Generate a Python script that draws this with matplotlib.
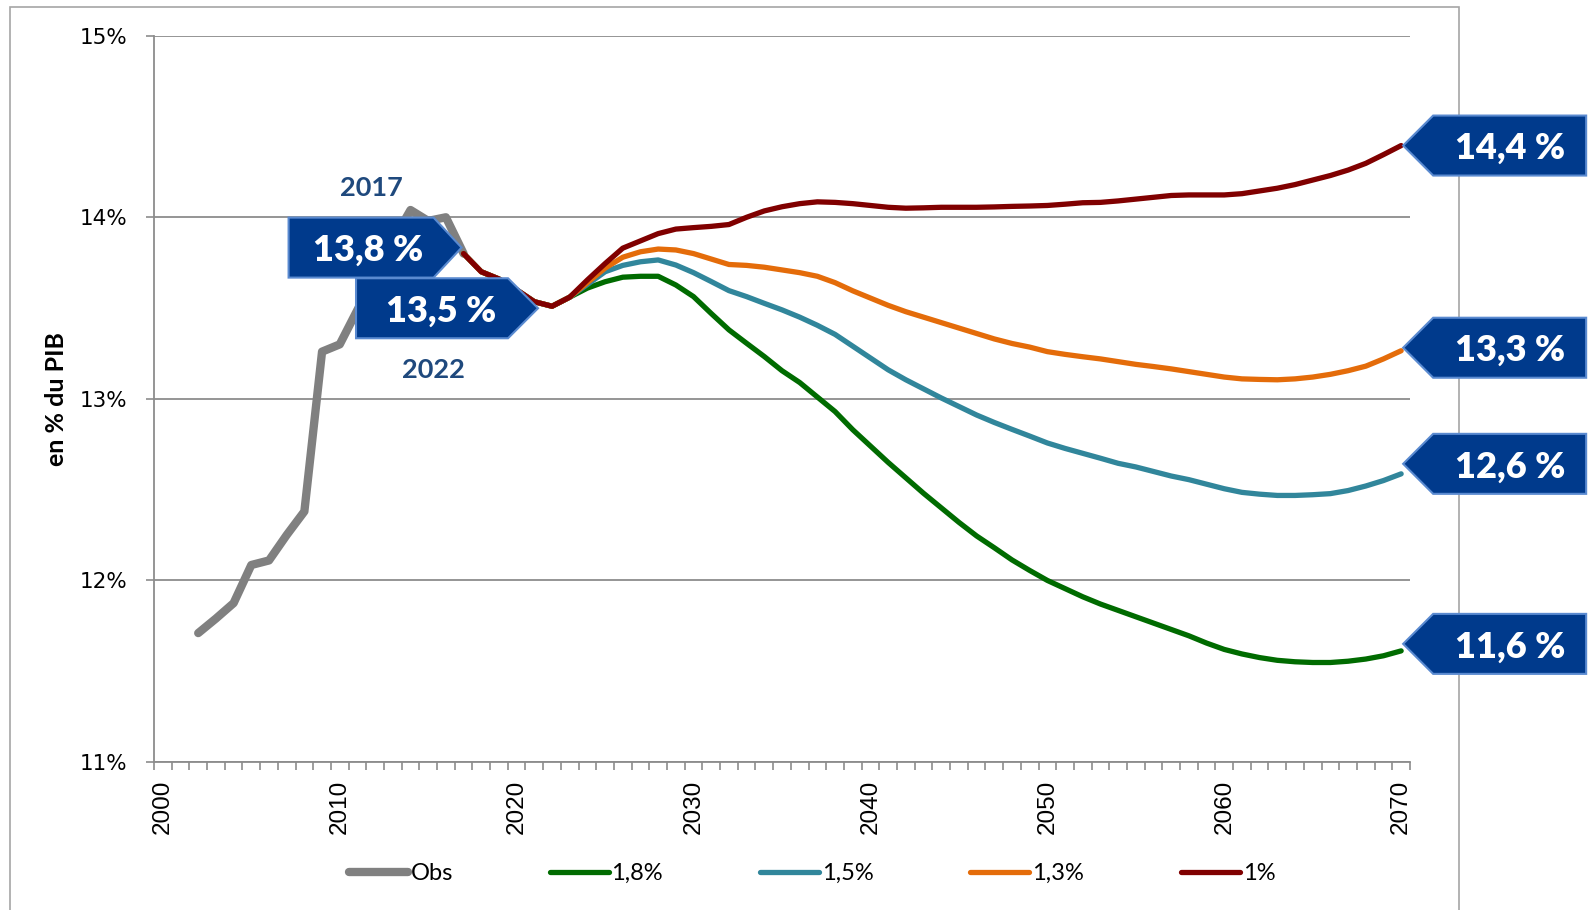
import numpy as np
import matplotlib
matplotlib.use("Agg")
import matplotlib.pyplot as plt
from matplotlib.patches import Polygon, Rectangle
from matplotlib.transforms import IdentityTransform

# observed values, 2002-2017
obs_years = list(range(2002, 2018))
obs = [11.71, 11.79, 11.875, 12.085, 12.11, 12.25, 12.38, 13.26, 13.30, 13.49,
       13.68, 13.87, 14.04, 13.98, 14.00, 13.80]

# projections, 2017-2070
proj_years = list(range(2017, 2071))
s18 = [13.80, 13.70, 13.66, 13.60, 13.535, 13.51, 13.56,
       13.61, 13.645, 13.67, 13.675, 13.675, 13.627, 13.563, 13.47, 13.38,
       13.306, 13.233, 13.155, 13.09, 13.01, 12.93, 12.83, 12.74, 12.65, 12.565,
       12.48, 12.40, 12.32, 12.245, 12.18, 12.113, 12.055, 12.00, 11.955, 11.91,
       11.87, 11.835, 11.80, 11.765, 11.73, 11.695, 11.655, 11.62, 11.595, 11.575,
       11.56, 11.552, 11.548, 11.548, 11.555, 11.567, 11.585, 11.612]
s15 = [13.80, 13.70, 13.66, 13.60, 13.535, 13.51, 13.56,
       13.63, 13.70, 13.735, 13.755, 13.765, 13.737, 13.695, 13.646, 13.596,
       13.563, 13.526, 13.49, 13.45, 13.405, 13.355, 13.29, 13.225, 13.16, 13.105,
       13.055, 13.005, 12.958, 12.911, 12.87, 12.832, 12.795, 12.757, 12.727, 12.70,
       12.673, 12.645, 12.625, 12.60, 12.575, 12.555, 12.53, 12.505, 12.485, 12.475,
       12.468, 12.468, 12.472, 12.478, 12.495, 12.52, 12.55, 12.587]
s13 = [13.80, 13.70, 13.66, 13.60, 13.535, 13.51, 13.56,
       13.64, 13.72, 13.78, 13.81, 13.825, 13.82, 13.80, 13.77, 13.74,
       13.735, 13.725, 13.71, 13.695, 13.675, 13.64, 13.595, 13.555, 13.515, 13.48,
       13.45, 13.42, 13.39, 13.36, 13.33, 13.305, 13.285, 13.26, 13.245, 13.232,
       13.22, 13.205, 13.19, 13.178, 13.165, 13.15, 13.135, 13.12, 13.11, 13.107,
       13.105, 13.11, 13.12, 13.135, 13.155, 13.18, 13.22, 13.265]
s10 = [13.80, 13.70, 13.66, 13.60, 13.535, 13.51, 13.56,
       13.655, 13.745, 13.83, 13.87, 13.91, 13.935, 13.943, 13.95, 13.96,
       14.00, 14.035, 14.058, 14.075, 14.085, 14.082, 14.075, 14.065, 14.055, 14.05,
       14.052, 14.055, 14.055, 14.055, 14.057, 14.06, 14.062, 14.065, 14.072, 14.08,
       14.082, 14.09, 14.10, 14.11, 14.12, 14.123, 14.123, 14.123, 14.13, 14.145,
       14.16, 14.18, 14.205, 14.23, 14.26, 14.297, 14.345, 14.395]

series = [("1,8%", s18, "#006B00"), ("1,5%", s15, "#31869B"),
          ("1,3%", s13, "#E46C0A"), ("1%", s10, "#800000")]

y_ticks = [11, 12, 13, 14, 15]
y_labels = ["11%", "12%", "13%", "14%", "15%"]
x_ticks = list(range(2000, 2071, 10))

BLUE = "#003A8C"
EDGE = "#5A8AD0"
GRID = "#8C8C8C"

fig = plt.figure(figsize=(15.89, 9.10), dpi=100)
W, H = 1589, 910
ax = fig.add_axes([154 / W, 1 - 762 / H, (1410 - 154) / W, (762 - 35.7) / H])

# outer frame of the chart
fig.add_artist(Rectangle((10 / W, -0.02), (1459 - 10) / W, 1.02 - 6.7 / H,
                         transform=fig.transFigure, fill=False, ec="#A6A6A6", lw=1.2))

ax.plot(obs_years, obs, color="#808080", lw=6, solid_capstyle="round",
        solid_joinstyle="round", label="Obs")
for name, vals, col in series:
    ax.plot(proj_years, vals, color=col, lw=3.8, solid_capstyle="round",
            solid_joinstyle="round", label=name)

ax.set_xlim(1999.5, 2070.5)
ax.set_ylim(11, 15)
ax.set_xticks(x_ticks)
ax.set_xticklabels([str(t) for t in x_ticks], family="Liberation Sans")
ax.set_xticks(np.arange(1999.5, 2071, 1), minor=True)
ax.tick_params(axis="x", which="major", length=0, pad=13, labelrotation=90, labelsize=17.5)
ax.tick_params(axis="x", which="minor", length=6, width=1.2, color=GRID, direction="out")
ax.set_yticks(y_ticks)
ax.set_yticklabels(y_labels)
ax.tick_params(axis="y", length=6, width=1.2, color=GRID, pad=13, labelsize=15.5)

ax.yaxis.grid(True, color=GRID, lw=1.3)
ax.set_axisbelow(True)
for s in ["top", "right"]:
    ax.spines[s].set_visible(False)
for s in ["left", "bottom"]:
    ax.spines[s].set_color(GRID)
    ax.spines[s].set_linewidth(1.3)

fig.text(56 / W, 1 - 399 / H, "en % du PIB", rotation=90, ha="center", va="center",
         fontsize=18, fontweight="bold", family="Lato")

fig.legend(loc="center", bbox_to_anchor=(812 / W, 1 - 873.6 / H), ncol=5,
           frameon=False, handlelength=2.5, handletextpad=0.12, columnspacing=4.1,
           prop={"family": "Lato", "size": 17})


def callout(x, y, text, pointing, dx, dy, body, head, text_dx):
    px, py = ax.transData.transform((x, y))
    tx, ty = px + dx, py + dy
    h = 30
    s = -1 if pointing == "right" else 1
    pts = [(tx, ty), (tx + s * head, ty + h), (tx + s * (head + body), ty + h),
           (tx + s * (head + body), ty - h), (tx + s * head, ty - h)]
    fig.add_artist(Polygon(pts, closed=True, transform=IdentityTransform(),
                           fc=BLUE, ec=EDGE, lw=1.5))
    fig.add_artist(plt.Text(tx + text_dx, ty, text, transform=IdentityTransform(),
                            ha="center", va="center_baseline", color="white",
                            fontsize=26, fontweight="heavy", family="Lato"))


callout(2017, obs[-1], "13,8 %", "right", -2, 6, 145, 28, -93)
callout(2022, s10[5], "13,5 %", "right", -14, -2, 152, 30, -97)
callout(2070, s10[-1], "14,4 %", "left", 2, 0, 153, 30, 107)
callout(2070, s13[-1], "13,3 %", "left", 2, 3, 153, 30, 107)
callout(2070, s15[-1], "12,6 %", "left", 2, 10, 153, 30, 107)
callout(2070, s18[-1], "11,6 %", "left", 2, 7, 153, 30, 107)

ax.annotate("2017", xy=(2017, obs[-1]), xytext=(-92, 66), textcoords="offset pixels",
            ha="center", va="center", color="#1F497D", fontsize=19.5,
            fontweight="bold", family="Lato")
ax.annotate("2022", xy=(2022, s10[5]), xytext=(-119, -64), textcoords="offset pixels",
            ha="center", va="center", color="#1F497D", fontsize=19.5,
            fontweight="bold", family="Lato")

fig.savefig("out.png", dpi=100)
